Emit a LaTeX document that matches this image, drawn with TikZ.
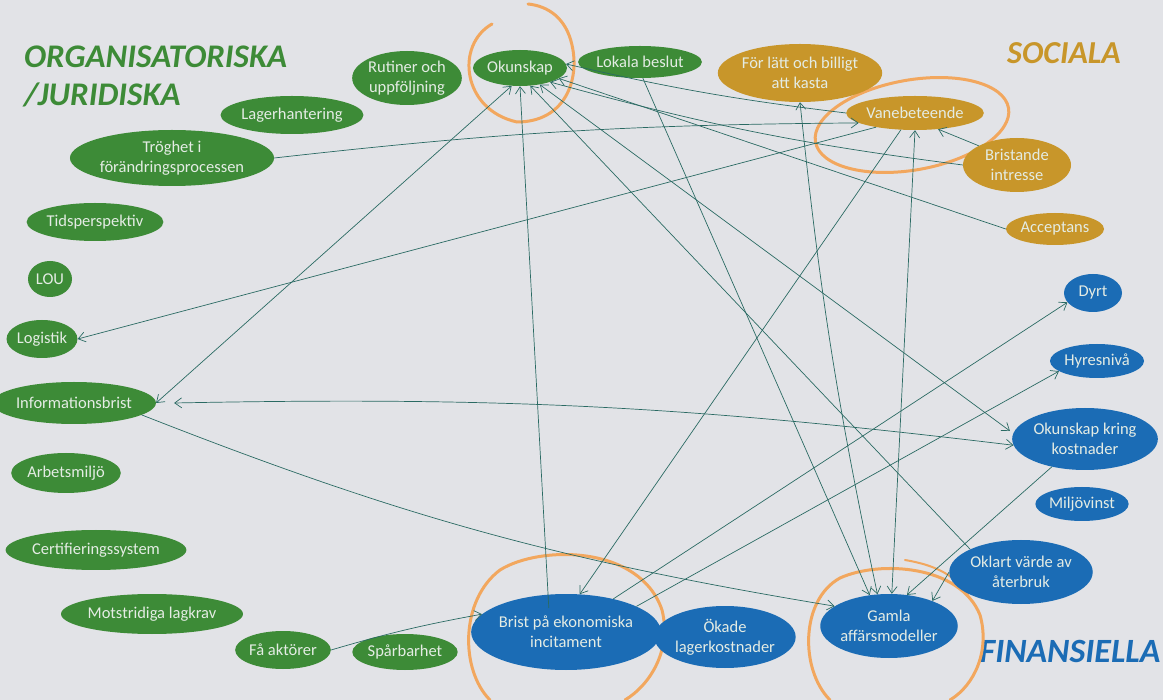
\documentclass[tikz,border=0pt]{standalone}
\usepackage{fontspec}
\setmainfont{Carlito}
\usetikzlibrary{shapes.geometric,arrows.meta}
\definecolor{paper}{HTML}{E2E3E7}
\definecolor{grn}{HTML}{3D8B37}
\definecolor{org}{HTML}{C8962A}
\definecolor{blu}{HTML}{1B6CB5}
\definecolor{lin}{HTML}{2A6A63}
\definecolor{hl}{HTML}{F2A75E}
\definecolor{txt}{HTML}{E4ECE4}
\begin{document}
\begin{tikzpicture}[x=1pt,y=-1pt,
  el/.style={ellipse,inner sep=0pt,text=txt,align=center,
    font=\fontsize{16.5}{20}\selectfont},
  gn/.style={el,fill=grn},
  on/.style={el,fill=org},
  bn/.style={el,fill=blu},
  sz/.style 2 args={minimum width=#1pt,minimum height=#2pt},
  conn/.style={draw=lin,line width=0.7pt},
  ar/.style={conn,-{Straight Barb[length=7pt,width=10pt]}},
  dar/.style={conn,{Straight Barb[length=7pt,width=10pt]}-{Straight Barb[length=7pt,width=10pt]}},
  hlt/.style={draw=hl,line width=3pt,line cap=round},
  head/.style={align=left,inner sep=0pt}
]
\fill[paper] (0,0) rectangle (1163,700);
\useasboundingbox (0,0) rectangle (1163,700);

% headings
\node[head,text=grn,anchor=north west,font=\fontsize{33}{38}\selectfont\bfseries\itshape] (hOrg) at (24,46) {ORGANISATORISKA\\/JURIDISKA};
\node[head,text=org,font=\fontsize{32}{36}\selectfont\bfseries\itshape] (hSoc) at (1064,53) {SOCIALA};
\node[head,text=blu,font=\fontsize{34}{38}\selectfont\bfseries\itshape] (hFin) at (1070,651) {FINANSIELLA};

% orange highlight marks
\draw[hlt] (492,24) .. controls (455,45) and (462,110) .. (517,122)
  .. controls (565,122) and (580,80) .. (572,45)
  .. controls (566,18) and (548,6) .. (528,4);
\draw[hlt,rotate around={10:(912,125)}] (912,125) ellipse[x radius=98,y radius=45];
\draw[hlt] (490,700) .. controls (460,670) and (460,600) .. (500,570)
  .. controls (540,545) and (640,545) .. (662,610)
  .. controls (672,650) and (650,685) .. (625,700);
\draw[hlt] (830,700) .. controls (800,670) and (800,600) .. (840,578)
  .. controls (880,560) and (960,565) .. (980,615)
  .. controls (990,650) and (975,685) .. (950,700);
\draw[hlt,line width=2pt] (905,560) .. controls (935,565) and (955,575) .. (968,595);

% green nodes
\node[gn,sz={100}{54}] (rutiner) at (407,78) {Rutiner och\\uppföljning};
\node[gn,sz={94}{36}] (okunskap) at (520,68) {Okunskap};
\node[gn,sz={108}{32}] (lokala) at (640,62) {Lokala beslut};
\node[gn,sz={120}{38}] (lager) at (292,115) {Lagerhantering};
\node[gn,sz={168}{56}] (troghet) at (172,158) {Tröghet i\\förändringsprocessen};
\node[gn,sz={120}{38}] (tids) at (95,222) {Tidsperspektiv};
\node[gn,sz={44}{36}] (lou) at (50,279) {LOU};
\node[gn,sz={58}{38}] (logistik) at (42,339) {Logistik};
\node[gn,sz={136}{42}] (info) at (74,403) {Informationsbrist};
\node[gn,sz={98}{40}] (arbets) at (66,473) {Arbetsmiljö};
\node[gn,sz={148}{40}] (cert) at (96,550) {Certifieringssystem};
\node[gn,sz={150}{40}] (mots) at (152,614) {Motstridiga lagkrav};
\node[gn,sz={88}{38}] (faakt) at (283,650) {Få aktörer};
\node[gn,sz={90}{36}] (spar) at (405,652) {Spårbarhet};

% orange nodes
\node[on,sz={140}{58}] (forlatt) at (800,73) {För lätt och billigt\\att kasta};
\node[on,sz={128}{34}] (vane) at (915,113) {Vanebeteende};
\node[on,sz={108}{54}] (bristint) at (1017,165) {Bristande\\intresse};
\node[on,sz={98}{32}] (accept) at (1055,229) {Acceptans};

% blue nodes
\node[bn,sz={58}{38}] (dyrt) at (1093,293) {Dyrt};
\node[bn,sz={94}{34}] (hyres) at (1097,361) {Hyresnivå};
\node[bn,sz={114}{62}] (okk) at (1085,439) {Okunskap kring\\kostnader};
\node[bn,sz={92}{34}] (miljo) at (1082,504) {Miljövinst};
\node[bn,sz={140}{64}] (oklart) at (1021,572) {Oklart värde av\\återbruk};
\node[bn,sz={120}{64}] (gamla) at (889,626) {Gamla\\affärsmodeller};
\node[bn,sz={120}{62}] (okade) at (725,637) {Ökade\\lagerkostnader};
\node[bn,sz={166}{76}] (brist) at (566,632) {Brist på ekonomiska\\incitament};

% connectors
\draw[ar] (brist.north west) ++(50,3) coordinate (b1) (b1) -- (okunskap.south);
\draw[dar] (info.east) -- (okunskap.-115);
\draw[ar] (oklart.north west) -- (okunskap.-60);
\draw[dar] (okk.west) ++(-2,-8) coordinate (k1) (okunskap.-40) -- (k1);
\draw[ar] (bristint.west) to[bend left=4] (okunskap.-25);
\draw[ar] (accept.west) -- (okunskap.-15);
\draw[ar] (vane.west) to[bend left=3] (okunskap.5);
\draw[ar] (troghet.east) to[bend left=3] (vane.-170);
\draw[ar] (vane.-160) -- (logistik.east);
\draw[ar] (vane.-130) -- (brist.70);
\draw[ar] (bristint.north west) -- (vane.-35);
\draw[dar] (gamla.110) to[bend left=3] (forlatt.-90);
\draw[dar] (gamla.85) -- (vane.-90);
\draw[ar] (lokala.-80) -- (gamla.122);
\draw[ar] (info.-10) to[bend right=6] (gamla.160);
\draw[ar] (okk.-140) -- (gamla.60);
\draw[ar] (oklart.west) -- (gamla.30);
\draw[dar] (info.east) ++(18,0) coordinate (i2) (i2) to[bend left=4] (okk.-175);
\draw[ar] (brist.35) -- (dyrt.-160);
\draw[ar] (brist.20) -- (hyres.-165);
\draw[ar] (faakt.east) to[bend left=3] (brist.168);
\end{tikzpicture}
\end{document}
